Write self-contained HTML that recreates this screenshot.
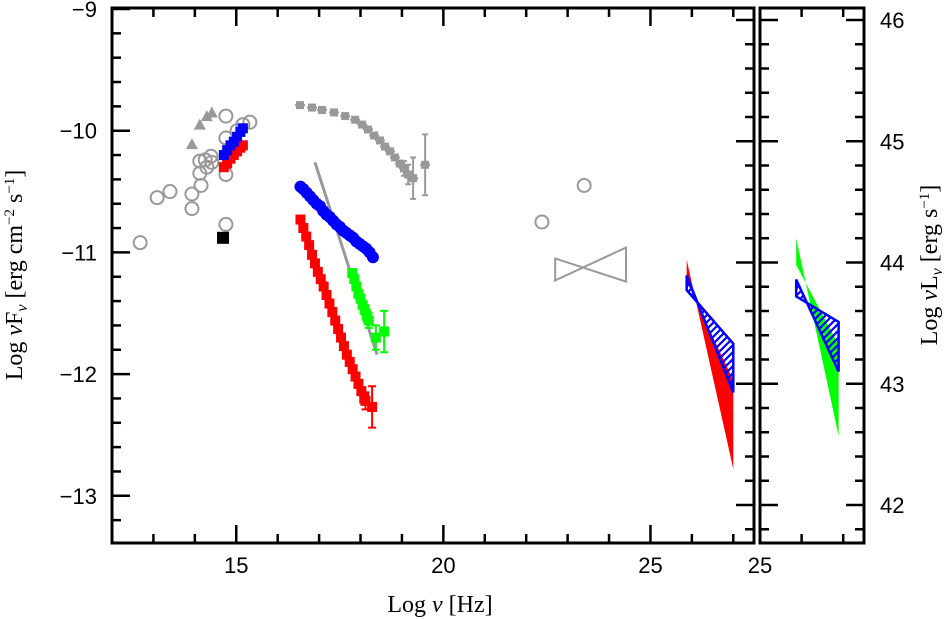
<!DOCTYPE html>
<html><head><meta charset="utf-8"><style>
html,body{margin:0;padding:0;background:#fff;}
svg{display:block;font-family:"Liberation Sans",sans-serif;}
.t{font-size:22px;fill:#000;}
.ti{font-family:"Liberation Serif",serif;font-size:24px;fill:#000;}
</style></head><body>
<svg id="c" width="951" height="619" viewBox="0 0 951 619">
<defs>
<pattern id="hatch" patternUnits="userSpaceOnUse" width="7" height="7">
<path d="M0,7L7,0M-2,2L2,-2M5,9L9,5" stroke="#00f" stroke-width="2.2"/>
</pattern>
</defs>
<g id="gAxes"></g>
<g id="gData"></g>
<text class="ti" x="440" y="612" text-anchor="middle">Log <tspan font-style="italic">ν</tspan>  [Hz]</text>
<text class="ti" transform="translate(22,275) rotate(-90)" text-anchor="middle">Log <tspan font-style="italic">ν</tspan>F<tspan font-size="16" dy="5"><tspan font-style="italic">ν</tspan></tspan><tspan dy="-5"> [erg cm</tspan><tspan font-size="15" dy="-8">−2</tspan><tspan dy="8"> s</tspan><tspan font-size="15" dy="-8">−1</tspan><tspan dy="8">]</tspan></text>
<text class="ti" transform="translate(937,265) rotate(-90)" text-anchor="middle">Log <tspan font-style="italic">ν</tspan>L<tspan font-size="16" dy="5"><tspan font-style="italic">ν</tspan></tspan><tspan dy="-5">  [erg s</tspan><tspan font-size="15" dy="-8">−1</tspan><tspan dy="8">]</tspan></text>
</svg>
<script>
// ---- data ----
const circX=[12.68,13.09,13.40,13.93,13.93,14.15,14.12,14.12,14.25,14.39,14.29,14.41,14.75,14.75,14.75,14.75,15.02,15.16,15.33,22.38,23.40];
const circY=[-10.92,-10.55,-10.50,-10.52,-10.64,-10.45,-10.25,-10.35,-10.24,-10.21,-10.30,-10.26,-9.88,-10.06,-10.36,-10.77,-10.00,-9.95,-9.93,-10.75,-10.45];
const triX=[13.93,14.12,14.29,14.41];
const triY=[-10.11,-9.95,-9.88,-9.85];
const sqX=[14.68];
const sqY=[-10.88];
const optBlueX=[14.70,14.78,14.86,14.94,15.02,15.10,15.16];
const optBlueY=[-10.20,-10.16,-10.12,-10.09,-10.05,-10.01,-9.98];
const optRedX=[14.70,14.78,14.86,14.94,15.02,15.10,15.16];
const optRedY=[-10.30,-10.27,-10.23,-10.20,-10.17,-10.14,-10.12];
const hxX=[16.54,16.83,17.07,17.36,17.63,17.87,18.04,18.18,18.33,18.47,18.59,18.71,18.83,18.95,19.05,19.15,19.27,19.56];
const hxY=[-9.79,-9.81,-9.83,-9.85,-9.88,-9.91,-9.95,-9.99,-10.04,-10.08,-10.13,-10.17,-10.22,-10.27,-10.31,-10.36,-10.39,-10.28];
const hxErr=[0,0,0,0,0,0,0,0,0,0,0,0,0,0,0.06,0.08,0.17,0.25];
const xbX=[16.55,16.62,16.70,16.78,16.86,16.94,17.02,17.10,17.18,17.26,17.34,17.42,17.50,17.58,17.66,17.74,17.82,17.90,17.98,18.06,18.14,18.22,18.30];
const xbY=[-10.46,-10.48,-10.51,-10.54,-10.57,-10.60,-10.62,-10.66,-10.69,-10.71,-10.74,-10.77,-10.79,-10.82,-10.84,-10.86,-10.88,-10.91,-10.93,-10.95,-10.97,-11.00,-11.04];
const xrX=[16.55,16.62,16.69,16.76,16.83,16.90,16.97,17.04,17.11,17.18,17.25,17.32,17.39,17.46,17.53,17.60,17.67,17.74,17.81,17.88,17.95,18.02,18.09,18.12,18.28];
const xrY=[-10.73,-10.80,-10.87,-10.94,-11.02,-11.09,-11.16,-11.22,-11.28,-11.35,-11.42,-11.49,-11.56,-11.63,-11.70,-11.77,-11.84,-11.90,-11.96,-12.02,-12.08,-12.14,-12.20,-12.22,-12.27];
const xrErr=[0,0,0,0,0,0,0,0,0,0,0,0,0,0,0,0,0,0,0,0,0,0,0.04,0.07,0.17];
const xgX=[17.80,17.85,17.90,17.95,18.00,18.05,18.10,18.15,18.20,18.37,18.57];
const xgY=[-11.17,-11.22,-11.28,-11.34,-11.38,-11.43,-11.47,-11.52,-11.56,-11.70,-11.65];
const xgErr=[0,0,0,0,0.03,0.03,0.04,0.05,0.06,0.10,0.17];
const slopeX=[16.90,18.40];
const slopeY=[-10.26,-11.84];
const fermiX=[22.70,24.41];
const fermiTop=[-11.05,-10.96];
const fermiBot=[-11.23,-11.24];
const gamX=[25.875,27.0];
const redTop=[-11.06,-12.05];
const redBot=[-11.24,-12.78];
const blueTop=[-11.19,-11.75];
const blueBot=[-11.31,-12.15];
const r2X=[25.87,26.89];
const greenTop=[44.20,43.32];
const greenBot=[43.98,42.57];
const blue2Top=[43.86,43.51];
const blue2Bot=[43.72,43.10];
const xTicksMain=[15,20,25];
const yTicksLeft=[-9,-10,-11,-12,-13];
const yTicksRight=[46,45,44,43,42];

// ---- scales ----
const L=112,R=754,T=8,B=543,RL=760,RR=864;
const sx=v=>L+(v-12)*(R-L)/15.5;
const sx2=v=>RL+(v-25)*(RR-RL)/2.5;
const sy=v=>9+(-9-v)*121.7;
const syL=v=>20+(46-v)*121.25;
const NS='http://www.w3.org/2000/svg';
const ax=document.getElementById('gAxes'), gd=document.getElementById('gData');
function mk(tag,attrs,parent){const e=document.createElementNS(NS,tag);for(const k in attrs)e.setAttribute(k,attrs[k]);(parent||gd).appendChild(e);return e;}

let f1=mk('rect',{x:L,y:T,width:R-L,height:B-T,fill:'none',stroke:'#000','stroke-width':3},ax);


let f2=mk('rect',{x:RL,y:T,width:RR-RL,height:B-T,fill:'none',stroke:'#000','stroke-width':3},ax);


function tk(x1,y1,x2,y2){mk('line',{x1,y1,x2,y2,stroke:'#000','stroke-width':2.5},ax);}
for(let v=13;v<=27;v++){const len=(v%5==0)?18:9;const x=sx(v);tk(x,B,x,B-len);tk(x,T,x,T+len);}
for(let v=26;v<=27;v++){const x=sx2(v);tk(x,B,x,B-9);tk(x,T,x,T+9);}
for(let i=0;i<=22;i++){const v=-9-i*0.2;const y=sy(v);if(y>B-2)break;const maj=i%5==0;tk(L,y,L+(maj?18:9),y);}
for(let i=0;i<=22;i++){const v=46.2-i*0.2;const y=syL(v);if(y>B-2||y<T+2)continue;const maj=Math.abs(v-Math.round(v))<0.01;const len=maj?18:9;
 tk(R,y,R-len,y);tk(RL,y,RL+len,y);tk(RR,y,RR-len,y);}
xTicksMain.forEach(v=>{const t=mk('text',{x:sx(v),y:573,'text-anchor':'middle',class:'t'},ax);t.textContent=v;

});
{const t=mk('text',{x:RL,y:573,'text-anchor':'middle',class:'t'},ax);t.textContent='25';

}
yTicksLeft.forEach(v=>{const t=mk('text',{x:97,y:sy(v)+8,'text-anchor':'end',class:'t'},ax);t.textContent='−'+Math.abs(v);

});
yTicksRight.forEach(v=>{const t=mk('text',{x:880,y:syL(v)+8,class:'t'},ax);t.textContent=v;

});

const GR='#999';
let sl=mk('line',{x1:sx(slopeX[0]),y1:sy(slopeY[0]),x2:sx(slopeX[1]),y2:sy(slopeY[1]),stroke:GR,'stroke-width':3});


let fb=mk('path',{d:`M${sx(fermiX[0])},${sy(fermiTop[0])}L${sx(fermiX[0])},${sy(fermiBot[0])}L${sx(fermiX[1])},${sy(fermiTop[1])}L${sx(fermiX[1])},${sy(fermiBot[1])}Z`,fill:'none',stroke:GR,'stroke-width':2});


circX.forEach((x,i)=>{const c=mk('circle',{cx:sx(x),cy:sy(circY[i]),r:6.5,fill:'none',stroke:GR,'stroke-width':2});

});
triX.forEach((x,i)=>{const px=sx(x),py=sy(triY[i]);const p=mk('path',{d:`M${px-6},${py+5}L${px+6},${py+5}L${px},${py-6}Z`,fill:GR});

});
sqX.forEach((x,i)=>{const r=mk('rect',{x:sx(x)-6,y:sy(sqY[i])-6,width:12,height:12,fill:'#000'});

});
hxX.forEach((x,i)=>{const px=sx(x),py=sy(hxY[i]);
 mk('line',{x1:px-5,y1:py,x2:px+5,y2:py,stroke:GR,'stroke-width':2});
 if(hxErr[i]>0){const e=hxErr[i]*121.7;mk('path',{d:`M${px},${py-e}V${py+e}M${px-3},${py-e}H${px+3}M${px-3},${py+e}H${px+3}`,stroke:GR,'stroke-width':2,fill:'none'});}
 const r=mk('rect',{x:px-4,y:py-4,width:8,height:8,fill:GR});
 
 });
function errPts(X,Y,E,col,name,shape){X.forEach((x,i)=>{const px=sx(x),py=sy(Y[i]);
 const e=(E?E[i]:0)*121.7;
 if(e>0)mk('path',{d:`M${px},${py-e}V${py+e}M${px-4},${py-e}H${px+4}M${px-4},${py+e}H${px+4}`,stroke:col,'stroke-width':2,fill:'none'});
 let m;
 if(shape==='c')m=mk('circle',{cx:px,cy:py,r:6,fill:col});
 else m=mk('rect',{x:px-5,y:py-5,width:10,height:10,fill:col});
 
 });}
errPts(optRedX,optRedY,null,'#f00','optical-red-point','s');
errPts(optBlueX,optBlueY,null,'#00f','optical-blue-point','s');
errPts(xrX,xrY,xrErr,'#f00','xray-red-point','s');
errPts(xbX,xbY,null,'#00f','xray-blue-point','c');
errPts(xgX,xgY,xgErr,'#0f0','xray-green-point','s');

function bow(X,top,bot,fx,fy,fill,stroke,name){
 const d=`M${fx(X[0])},${fy(top[0])}L${fx(X[1])},${fy(bot[1])}L${fx(X[1])},${fy(top[1])}L${fx(X[0])},${fy(bot[0])}Z`;
 const p=mk('path',{d,fill,stroke:stroke||'none','stroke-width':2.5,'stroke-linejoin':'miter'});
 
 }
bow(gamX,redTop,redBot,sx,sy,'#f00',null,'gamma-red-bowtie');
bow(gamX,blueTop,blueBot,sx,sy,'url(#hatch)','#00f','gamma-blue-bowtie');
bow(r2X,greenTop,greenBot,sx2,syL,'#0f0',null,'gamma-green-bowtie');
bow(r2X,blue2Top,blue2Bot,sx2,syL,'url(#hatch)','#00f','gamma-blue-bowtie-panel2');
</script>
</body></html>
